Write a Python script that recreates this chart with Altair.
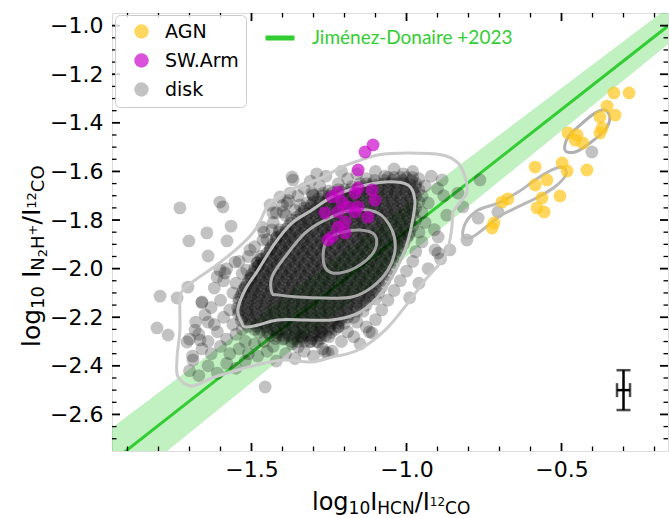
import altair as alt
import pandas as pd

# ------------------------------------------------------------------ data
groups = ["AGN", "SW.Arm", "disk"]
group_colors = ["rgba(255,198,26,0.7)", "rgba(200,0,200,0.68)", "rgba(0,0,0,0.24)"]

agn_x = [-0.331, -0.282, -0.353, -0.327, -0.376, -0.369, -0.376, -0.479, -0.450, -0.456, -0.431,
         -0.418, -0.498, -0.482, -0.585, -0.547, -0.585, -0.563, -0.505, -0.579, -0.556,
         -0.673, -0.692, -0.718, -0.724]
agn_y = [-1.277, -1.277, -1.331, -1.368, -1.376, -1.421, -1.442, -1.442, -1.450, -1.471, -1.483,
         -1.594, -1.565, -1.598, -1.582, -1.635, -1.656, -1.709, -1.701, -1.750, -1.767,
         -1.713, -1.726, -1.812, -1.833]

sw_x = [-1.108, -1.134, -1.156, -1.221, -1.156, -1.111, -1.166, -1.208, -1.102, -1.263, -1.221,
        -1.166, -1.124, -1.198, -1.221, -1.240, -1.198, -1.156, -1.253, -1.189, -1.240]
sw_y = [-1.491, -1.520, -1.594, -1.685, -1.668, -1.676, -1.689, -1.726, -1.718, -1.771, -1.767,
        -1.767, -1.788, -1.808, -1.829, -1.870, -1.853, -1.746, -1.882, -1.746, -1.705]

# dense disk core, part 1: rows of log HCN/CO (in 0.01 dex) for each N2H+/CO row
disk_core_y = [-1.625, -1.650, -1.675, -1.700, -1.725, -1.750, -1.775, -1.800, -1.825, -1.850,
               -1.875, -1.900, -1.925, -1.950, -1.975, -2.000, -2.025, -2.050, -2.075, -2.100,
               -2.125, -2.150, -2.175, -2.200, -2.225, -2.250, -2.275, -2.300]
disk_core_x = [
    [-106, -104, -102, -100, -98],
    [-115, -113, -111, -109, -107, -105, -103, -101, -99, -97],
    [-122, -120, -118, -116, -114, -112, -110, -108, -106, -104, -102, -100, -98, -96],
    [-127, -125, -123, -121, -119, -117, -115, -113, -111, -109, -107, -105, -103, -101, -99, -97],
    [-130, -128, -126, -124, -122, -120, -118, -116, -114, -112, -110, -108, -106, -104, -102, -100, -98, -96],
    [-133, -131, -129, -127, -125, -123, -121, -119, -117, -115, -113, -111, -109, -107, -105, -103, -101, -99, -97],
    [-134, -132, -130, -128, -126, -124, -122, -120, -118, -116, -114, -112, -110, -108, -106, -104, -102, -100, -98],
    [-137, -135, -133, -131, -129, -127, -125, -123, -121, -119, -117, -115, -113, -111, -109, -107, -105, -103, -101, -99, -97],
    [-138, -136, -134, -132, -130, -128, -126, -124, -122, -120, -118, -116, -114, -112, -110, -108, -106, -104, -102, -100, -98],
    [-141, -139, -137, -135, -133, -131, -129, -127, -125, -123, -121, -119, -117, -115, -113, -111, -109, -107, -105, -103, -101, -99],
    [-142, -140, -138, -136, -134, -132, -130, -128, -126, -124, -122, -120, -118, -116, -114, -112, -110, -108, -106, -104, -102, -100],
    [-143, -141, -139, -137, -135, -133, -131, -129, -127, -125, -123, -121, -119, -117, -115, -113, -111, -109, -107, -105, -103, -101],
    [-144, -142, -140, -138, -136, -134, -132, -130, -128, -126, -124, -122, -120, -118, -116, -114, -112, -110, -108, -106, -104, -102],
    [-147, -145, -143, -141, -139, -137, -135, -133, -131, -129, -127, -125, -123, -121, -119, -117, -115, -113, -111, -109, -107, -105, -103],
    [-148, -146, -144, -142, -140, -138, -136, -134, -132, -130, -128, -126, -124, -122, -120, -118, -116, -114, -112, -110, -108, -106, -104],
    [-149, -147, -145, -143, -141, -139, -137, -135, -133, -131, -129, -127, -125, -123, -121, -119, -117, -115, -113, -111, -109, -107, -105],
    [-150, -148, -146, -144, -142, -140, -138, -136, -134, -132, -130, -128, -126, -124, -122, -120, -118, -116, -114, -112, -110, -108, -106],
    [-151, -149, -147, -145, -143, -141, -139, -137, -135, -133, -131, -129, -127, -125, -123, -121, -119, -117, -115, -113, -111, -109, -107],
    [-152, -150, -148, -146, -144, -142, -140, -138, -136, -134, -132, -130, -128, -126, -124, -122, -120, -118, -116, -114, -112, -110, -108],
    [-153, -151, -149, -147, -145, -143, -141, -139, -137, -135, -133, -131, -129, -127, -125, -123, -121, -119, -117, -115, -113, -111, -109],
    [-154, -152, -150, -148, -146, -144, -142, -140, -138, -136, -134, -132, -130, -128, -126, -124, -122, -120, -118, -116, -114, -112, -110],
    [-153, -151, -149, -147, -145, -143, -141, -139, -137, -135, -133, -131, -129, -127, -125, -123, -121, -119, -117, -115, -113],
    [-154, -152, -150, -148, -146, -144, -142, -140, -138, -136, -134, -132, -130, -128, -126, -124, -122, -120, -118, -116, -114],
    [-153, -151, -149, -147, -145, -143, -141, -139, -137, -135, -133, -131, -129, -127, -125, -123, -121, -119, -117],
    [-152, -150, -148, -146, -144, -142, -140, -138, -136, -134, -132, -130, -128, -126, -124, -122, -120],
    [-149, -147, -145, -143, -141, -139, -137, -135, -133, -131, -129, -127, -125, -123],
    [-144, -142, -140, -138, -136, -134, -132, -130, -128, -126],
    [-137, -135, -133, -131, -129],
]

# dense disk core, part 2: interleaved rows
disk_core2_y = [-1.6375, -1.6625, -1.6875, -1.7125, -1.7375, -1.7625, -1.7875, -1.8125, -1.8375,
                -1.8625, -1.8875, -1.9125, -1.9375, -1.9625, -1.9875, -2.0125, -2.0375, -2.0625,
                -2.0875, -2.1125, -2.1375, -2.1625, -2.1875, -2.2125, -2.2375, -2.2625, -2.2875]
disk_core2_x = [
    [-1.103, -1.071, -1.046, -1.012, -0.984],
    [-1.176, -1.149, -1.117, -1.090, -1.058, -1.031, -1.003, -0.971],
    [-1.238, -1.207, -1.181, -1.150, -1.124, -1.091, -1.063, -1.036, -1.002, -0.975],
    [-1.284, -1.252, -1.226, -1.195, -1.167, -1.138, -1.104, -1.078, -1.047, -1.019, -0.986],
    [-1.307, -1.279, -1.248, -1.223, -1.190, -1.161, -1.133, -1.101, -1.074, -1.044, -1.012, -0.983],
    [-1.331, -1.298, -1.272, -1.241, -1.213, -1.182, -1.156, -1.122, -1.095, -1.063, -1.037, -1.006, -0.978],
    [-1.352, -1.324, -1.291, -1.265, -1.233, -1.207, -1.174, -1.146, -1.118, -1.086, -1.059, -1.027, -0.996],
    [-1.374, -1.341, -1.316, -1.284, -1.257, -1.225, -1.197, -1.166, -1.139, -1.107, -1.079, -1.048, -1.020, -0.989],
    [-1.388, -1.359, -1.327, -1.301, -1.268, -1.242, -1.209, -1.183, -1.151, -1.124, -1.092, -1.066, -1.033, -1.004],
    [-1.403, -1.376, -1.344, -1.318, -1.285, -1.258, -1.227, -1.199, -1.168, -1.140, -1.109, -1.081, -1.050, -1.021, -0.993],
    [-1.421, -1.392, -1.363, -1.334, -1.306, -1.275, -1.248, -1.216, -1.189, -1.157, -1.131, -1.098, -1.071, -1.040, -1.012],
    [-1.436, -1.405, -1.378, -1.347, -1.320, -1.288, -1.261, -1.230, -1.202, -1.171, -1.143, -1.112, -1.085, -1.053, -1.024],
    [-1.451, -1.422, -1.391, -1.364, -1.333, -1.305, -1.274, -1.247, -1.215, -1.188, -1.156, -1.129, -1.097, -1.070, -1.039],
    [-1.466, -1.435, -1.408, -1.376, -1.349, -1.318, -1.290, -1.259, -1.231, -1.200, -1.172, -1.141, -1.114, -1.082, -1.052],
    [-1.477, -1.449, -1.418, -1.390, -1.359, -1.331, -1.300, -1.273, -1.241, -1.214, -1.183, -1.155, -1.124, -1.096, -1.065],
    [-1.491, -1.460, -1.433, -1.401, -1.374, -1.343, -1.315, -1.284, -1.256, -1.225, -1.197, -1.166, -1.139, -1.107, -1.077],
    [-1.503, -1.474, -1.443, -1.416, -1.385, -1.357, -1.326, -1.298, -1.267, -1.240, -1.208, -1.181, -1.150, -1.122, -1.090],
    [-1.514, -1.486, -1.455, -1.427, -1.396, -1.368, -1.337, -1.310, -1.278, -1.251, -1.219, -1.192, -1.161, -1.133, -1.102],
    [-1.526, -1.495, -1.467, -1.436, -1.409, -1.377, -1.350, -1.319, -1.291, -1.260, -1.232, -1.201, -1.173, -1.142, -1.115],
    [-1.534, -1.503, -1.476, -1.444, -1.417, -1.386, -1.358, -1.327, -1.299, -1.268, -1.241, -1.209, -1.182, -1.151, -1.122],
    [-1.541, -1.512, -1.481, -1.453, -1.422, -1.395, -1.363, -1.336, -1.305, -1.277, -1.246, -1.218, -1.187, -1.159, -1.131],
    [-1.545, -1.514, -1.487, -1.455, -1.428, -1.397, -1.369, -1.338, -1.310, -1.279, -1.252, -1.220, -1.193, -1.162],
    [-1.542, -1.511, -1.484, -1.452, -1.425, -1.394, -1.366, -1.335, -1.307, -1.276, -1.249, -1.217, -1.186],
    [-1.533, -1.505, -1.474, -1.446, -1.415, -1.388, -1.356, -1.329, -1.298, -1.270, -1.239, -1.211],
    [-1.511, -1.483, -1.452, -1.424, -1.393, -1.366, -1.334, -1.307, -1.276, -1.248, -1.221],
    [-1.476, -1.448, -1.417, -1.389, -1.358, -1.331, -1.299, -1.272, -1.244],
    [-1.423, -1.395, -1.364, -1.336, -1.305, -1.277],
]

# disk points in the ring around the core
disk_ring_x = [-1.70, -1.67, -1.64, -1.61, -1.58, -1.55, -1.52, -1.69, -1.66, -1.63, -1.60, -1.57, -1.54,
               -1.51, -1.48, -1.70, -1.67, -1.64, -1.61, -1.58, -1.55, -1.52, -1.49, -1.68, -1.65, -1.62,
               -1.59, -1.56, -1.53, -1.66, -1.63, -1.60, -1.57, -1.56, -1.62, -1.59, -1.55, -1.53, -1.50,
               -1.58, -1.54, -1.51, -1.47, -1.49, -1.45,
               -1.46, -1.43, -1.41, -1.39, -1.36, -1.42, -1.38, -1.35, -1.32, -1.33, -1.30, -1.28, -1.25,
               -1.22, -1.19, -1.16, -1.13, -1.10, -1.07, -1.04, -1.01, -0.98, -1.26, -1.31, -1.21, -1.44,
               -1.48, -1.52, -1.40, -1.29,
               -0.96, -0.94, -0.95, -0.93, -0.95, -0.94, -0.96, -0.95, -0.97, -0.98, -1.00, -1.02, -0.92,
               -0.90, -1.04, -1.06, -1.08, -0.88, -0.87, -0.91, -0.89, -0.93, -0.96, -0.99,
               -1.10, -1.13, -1.16, -1.19, -1.22, -1.25, -1.28, -1.31, -1.34, -1.37, -1.40, -1.43, -1.46,
               -1.21, -1.27, -1.33, -1.39, -1.45, -1.17, -1.12, -1.24, -1.36, -1.15, -1.30, -1.42]
disk_ring_y = [-2.42, -2.44, -2.40, -2.43, -2.39, -2.41, -2.38, -2.36, -2.33, -2.35, -2.32, -2.35, -2.33,
               -2.35, -2.36, -2.29, -2.27, -2.30, -2.26, -2.29, -2.27, -2.30, -2.31, -2.22, -2.19, -2.23,
               -2.20, -2.23, -2.25, -2.14, -2.16, -2.13, -2.17, -2.10, -2.08, -2.05, -2.06, -2.02, -2.04,
               -2.00, -1.97, -1.95, -1.96, -1.91, -1.88,
               -1.85, -1.81, -1.84, -1.78, -1.76, -1.77, -1.72, -1.70, -1.73, -1.67, -1.70, -1.66, -1.68,
               -1.65, -1.63, -1.61, -1.63, -1.60, -1.62, -1.59, -1.61, -1.60, -1.62, -1.64, -1.60, -1.92,
               -1.99, -2.08, -1.74, -1.61,
               -1.63, -1.66, -1.70, -1.73, -1.77, -1.81, -1.85, -1.89, -1.93, -1.97, -2.01, -2.05, -1.62,
               -1.67, -2.09, -2.13, -2.17, -1.70, -1.78, -1.84, -1.96, -2.00, -2.06, -2.12,
               -2.21, -2.24, -2.22, -2.26, -2.24, -2.28, -2.26, -2.30, -2.28, -2.31, -2.29, -2.32, -2.30,
               -2.30, -2.33, -2.34, -2.35, -2.34, -2.28, -2.26, -2.34, -2.37, -2.31, -2.36, -2.38]

# sparse outer disk points
disk_out_x = [-1.731, -1.602, -1.592, -1.644, -1.702, -1.566, -1.579, -1.640, -1.553, -1.505, -1.466,
              -1.434, -1.440, -1.408, -1.376, -1.385, -1.344, -1.366, -1.302, -1.269, -1.431, -1.398,
              -1.463, -1.418, -1.482, -1.515, -1.602, -1.586, -1.611, -1.795, -1.740, -1.805, -1.769,
              -1.705, -1.708, -1.456, -1.660, -1.640, -1.682, -1.111, -1.350, -1.285, -1.263, -0.898,
              -0.898, -0.860, -1.369, -1.305, -1.666, -1.689, -0.402, -0.705, -0.769, -0.805, -0.908,
              -0.818, -0.763, -0.885, -0.834, -1.253]
disk_out_y = [-1.750, -1.726, -1.746, -1.853, -1.886, -1.825, -1.886, -1.948, -1.973, -1.923, -1.829,
              -1.841, -1.738, -1.705, -1.689, -1.730, -1.738, -1.635, -1.697, -1.689, -1.771, -1.767,
              -1.882, -1.870, -1.977, -2.006, -2.006, -2.018, -2.034, -2.113, -2.121, -2.244, -2.273,
              -2.076, -2.302, -2.487, -2.137, -2.220, -2.253, -2.265, -2.322, -2.302, -2.343, -1.870,
              -1.936, -1.923, -1.623, -1.689, -2.294, -2.376, -1.520, -1.767, -1.792, -1.882, -1.923,
              -1.746, -1.635, -1.635, -1.689, -2.347]

# density contours of the disk (outer to inner) and of the AGN points
c1_x = [-1.737, -1.740, -1.731, -1.731, -1.721, -1.682, -1.608, -1.527, -1.482, -1.450, -1.418, -1.353,
        -1.289, -1.215, -1.166, -1.092, -0.995, -0.885, -0.834, -0.811, -0.805, -0.827, -0.850, -0.853,
        -0.860, -0.876, -0.940, -0.995, -1.069, -1.156, -1.240, -1.305, -1.392, -1.456, -1.544, -1.627,
        -1.692]
c1_y = [-2.446, -2.364, -2.253, -2.129, -2.088, -2.047, -1.981, -1.895, -1.829, -1.746, -1.705, -1.664,
        -1.635, -1.586, -1.561, -1.532, -1.524, -1.532, -1.565, -1.623, -1.685, -1.726, -1.767, -1.820,
        -1.882, -1.952, -2.047, -2.141, -2.253, -2.335, -2.364, -2.384, -2.376, -2.388, -2.417, -2.450,
        -2.483]
c2_x = [-1.531, -1.544, -1.521, -1.479, -1.424, -1.369, -1.305, -1.240, -1.156, -1.069, -0.995, -0.973,
        -0.982, -1.005, -1.047, -1.092, -1.156, -1.240, -1.327, -1.415, -1.479, -1.521]
c2_y = [-2.224, -2.170, -2.088, -2.006, -1.895, -1.812, -1.759, -1.705, -1.664, -1.643, -1.656, -1.718,
        -1.812, -1.923, -2.034, -2.117, -2.183, -2.211, -2.211, -2.211, -2.232, -2.240]
c3_x = [-1.434, -1.434, -1.392, -1.327, -1.263, -1.176, -1.092, -1.047, -1.037, -1.060, -1.111, -1.176,
        -1.263, -1.350, -1.415]
c3_y = [-2.100, -2.034, -1.952, -1.853, -1.800, -1.759, -1.771, -1.841, -1.923, -2.006, -2.076, -2.117,
        -2.121, -2.117, -2.108]
c4_x = [-1.269, -1.256, -1.215, -1.150, -1.102, -1.102, -1.150, -1.215, -1.256]
c4_y = [-1.952, -1.882, -1.853, -1.841, -1.862, -1.923, -1.985, -2.018, -2.006]
c5_x = [-0.818, -0.808, -0.769, -0.705, -0.640, -0.585, -0.531, -0.498, -0.485, -0.518, -0.569, -0.634,
        -0.698, -0.747, -0.789]
c5_y = [-1.866, -1.808, -1.759, -1.730, -1.685, -1.635, -1.594, -1.582, -1.611, -1.660, -1.701, -1.742,
        -1.783, -1.833, -1.870]
c6_x = [-0.489, -0.479, -0.440, -0.392, -0.360, -0.344, -0.360, -0.408, -0.456]
c6_y = [-1.512, -1.458, -1.409, -1.360, -1.347, -1.380, -1.429, -1.483, -1.520]

# Jimenez-Donaire +2023 relation and its band
jd_label = "Jiménez-Donaire +2023"
jd_x = [-1.95, -0.15]
jd_y = [-2.795, -0.995]
jd_lo = [-2.935, -1.070]
jd_hi = [-2.655, -0.920]

# typical error bar
err_x = [-0.30]
err_y = [-2.50]
err_dx = [0.021]
err_dy = [0.082]

# axes
x_major = [-1.5, -1.0, -0.5]
x_minor = [-1.9, -1.8, -1.7, -1.6, -1.4, -1.3, -1.2, -1.1, -0.9, -0.8, -0.7, -0.6, -0.4, -0.3, -0.2]
y_major = [-2.6, -2.4, -2.2, -2.0, -1.8, -1.6, -1.4, -1.2, -1.0]
y_minor = [-2.70, -2.65, -2.55, -2.50, -2.45, -2.35, -2.30, -2.25, -2.15, -2.10, -2.05, -1.95, -1.90,
           -1.85, -1.75, -1.70, -1.65, -1.55, -1.50, -1.45, -1.35, -1.30, -1.25, -1.15, -1.10, -1.05]

# ------------------------------------------------------------------ frames
disk_x, disk_y = [], []
for yv, row in zip(disk_core_y, disk_core_x):
    for v in row:
        disk_x.append(v / 100.0)
        disk_y.append(yv)
for yv, row in zip(disk_core2_y, disk_core2_x):
    for v in row:
        disk_x.append(v)
        disk_y.append(yv)
disk_x += disk_ring_x + disk_out_x
disk_y += disk_ring_y + disk_out_y

disk_df = pd.DataFrame({"x": disk_x, "y": disk_y, "group": "disk"})
hi_df = pd.concat([
    pd.DataFrame({"x": sw_x, "y": sw_y, "group": "SW.Arm"}),
    pd.DataFrame({"x": agn_x, "y": agn_y, "group": "AGN"}),
], ignore_index=True)

W, H = 556, 438
FONT = "DejaVu Sans"
xs = alt.Scale(domain=[-1.95, -0.1565], nice=False, zero=False)
ys = alt.Scale(domain=[-2.7505, -0.948], nice=False, zero=False)
xaxis = alt.Axis(values=x_major, format=".1f", title=None, ticks=False, domain=False, grid=False,
                 labelFontSize=22, labelFont=FONT, labelColor="black", labelPadding=8)
yaxis = alt.Axis(values=y_major, format=".1f", title=None, ticks=False, domain=False, grid=False,
                 labelFontSize=22, labelFont=FONT, labelColor="black", labelPadding=9)


def X(f):
    return alt.X(f, type="quantitative", scale=xs, axis=xaxis)


def Y(f):
    return alt.Y(f, type="quantitative", scale=ys, axis=yaxis)


grp_legend = alt.Legend(title=None, orient="none", legendX=3, legendY=2, padding=7, rowPadding=9,
                        symbolSize=210, symbolOffset=10, labelOffset=14, labelFontSize=19,
                        labelFont=FONT, labelColor="black", fillColor="rgba(255,255,255,0.8)",
                        strokeColor="#cccccc", cornerRadius=5, symbolType="circle",
                        symbolStrokeWidth=0)
grp_color = alt.Color("group:N", scale=alt.Scale(domain=groups, range=group_colors), legend=grp_legend)

layers = []

# band + relation
band_df = pd.DataFrame({"x": jd_x, "lo": jd_lo, "hi": jd_hi})
layers.append(alt.Chart(band_df).mark_area(color="#32cd32", opacity=0.3, clip=True).encode(
    x=X("x"), y=Y("lo"), y2="hi"))
line_df = pd.DataFrame({"x": jd_x, "y": jd_y, "name": jd_label})
layers.append(alt.Chart(line_df).mark_line(strokeWidth=3, clip=True).encode(
    x=X("x"), y=Y("y"),
    stroke=alt.Stroke("name:N", scale=alt.Scale(domain=[jd_label], range=["#32cd32"]),
                      legend=alt.Legend(title=None, orient="none", legendX=151, legendY=8, padding=0,
                                        symbolType="stroke", symbolStrokeWidth=5, symbolSize=841,
                                        labelColor="#32cd32", labelFont="Lato", labelFontSize=19,
                                        labelOffset=15, labelLimit=0))))

# disk points
layers.append(alt.Chart(disk_df).mark_circle(size=165, opacity=1).encode(
    x=X("x"), y=Y("y"), color=grp_color))

# contours
contours = [(c1_x, c1_y, "#cbcbcb"), (c2_x, c2_y, "#bcbcbc"), (c3_x, c3_y, "#aaaaaa"),
            (c4_x, c4_y, "#9d9d9d"), (c5_x, c5_y, "#b8b8b8"), (c6_x, c6_y, "#b0b0b0")]
for cx, cy, col in contours:
    cdf = pd.DataFrame({"x": cx, "y": cy, "i": list(range(len(cx)))})
    layers.append(alt.Chart(cdf).mark_line(color=col, strokeWidth=3, interpolate="cardinal-closed").encode(
        x=X("x"), y=Y("y"), order="i:Q"))

# SW.Arm and AGN points
layers.append(alt.Chart(hi_df).mark_circle(size=165, opacity=1).encode(
    x=X("x"), y=Y("y"), color=grp_color))

# error bar
err_df = pd.DataFrame({"x": err_x, "y": err_y, "dx": err_dx, "dy": err_dy})
err_base = alt.Chart(err_df).transform_calculate(
    ylo="datum.y - datum.dy", yhi="datum.y + datum.dy",
    xlo="datum.x - datum.dx", xhi="datum.x + datum.dx")
layers.append(err_base.mark_rule(color="black", strokeWidth=2.5).encode(x=X("x"), y=Y("ylo"), y2="yhi"))
layers.append(err_base.mark_rule(color="black", strokeWidth=2.5).encode(x=X("xlo"), x2="xhi", y=Y("y")))
for f in ["ylo", "yhi"]:
    layers.append(err_base.mark_tick(color="black", orient="horizontal", size=14, thickness=2.5).encode(
        x=X("x"), y=Y(f)))
for f in ["xlo", "xhi"]:
    layers.append(err_base.mark_tick(color="black", orient="vertical", size=14, thickness=2.5).encode(
        x=X(f), y=Y("y")))

# inward ticks on all four sides
for vals, ln, sw in [(x_major, 8, 1.8), (x_minor, 4.5, 1.3)]:
    tdf = pd.DataFrame({"v": vals})
    layers.append(alt.Chart(tdf).mark_rule(color="black", strokeWidth=sw).encode(
        x=X("v"), y=alt.value(H), y2=alt.value(H - ln)))
    layers.append(alt.Chart(tdf).mark_rule(color="black", strokeWidth=sw).encode(
        x=X("v"), y=alt.value(0), y2=alt.value(ln)))
for vals, ln, sw in [(y_major, 8, 1.8), (y_minor, 4.5, 1.3)]:
    tdf = pd.DataFrame({"v": vals})
    layers.append(alt.Chart(tdf).mark_rule(color="black", strokeWidth=sw).encode(
        y=Y("v"), x=alt.value(0), x2=alt.value(ln)))
    layers.append(alt.Chart(tdf).mark_rule(color="black", strokeWidth=sw).encode(
        y=Y("v"), x=alt.value(W), x2=alt.value(W - ln)))

# axis titles with sub/superscripts
ADV = {"l": 0.278, "o": 0.612, "g": 0.635, "1": 0.636, "0": 0.636, "2": 0.636, "I": 0.295,
       "H": 0.752, "C": 0.698, "N": 0.748, "O": 0.787, "/": 0.337, "+": 0.838, " ": 0.318}


def text_pieces(pieces, x0, y0, vertical):
    out = []
    pos = 0.0
    for txt, fs, shift in pieces:
        df = pd.DataFrame({"t": [txt]})
        if vertical:
            mk = alt.Chart(df).mark_text(align="left", baseline="alphabetic", angle=270, fontSize=fs,
                                         font=FONT, color="black")
            out.append(mk.encode(text="t:N", x=alt.value(x0 + shift), y=alt.value(y0 - pos)))
        else:
            mk = alt.Chart(df).mark_text(align="left", baseline="alphabetic", fontSize=fs,
                                         font=FONT, color="black")
            out.append(mk.encode(text="t:N", x=alt.value(x0 + pos), y=alt.value(y0 + shift)))
        pos += sum(ADV[c] for c in txt) * fs
    return out


x_title = [("log", 24, 0), ("10", 17, 4), ("I", 24, 0), ("HCN", 17, 4), ("/I", 24, 0),
           ("12", 12, -4), ("CO", 17, 4)]
y_title = [("log", 25, 0), ("10", 18, 4), (" ", 25, 0), ("I", 25, 0), ("N", 18, 4), ("2", 13, 7),
           ("H", 18, 4), ("+", 13, -3), ("/", 25, 0), ("I", 25, 0), ("12", 13, -4), ("CO", 18, 4)]
layers += text_pieces(x_title, 200, 497, False)
layers += text_pieces(y_title, -72, 334, True)

chart = alt.layer(*layers).properties(
    width=W, height=H,
    autosize=alt.AutoSizeParams(type="none"),
    padding={"left": 112, "top": 13, "right": 1, "bottom": 67},
).configure_view(stroke="black", strokeWidth=1.8).configure(background="white")

chart.save("out.html", embed_options={"renderer": "svg", "actions": False})
